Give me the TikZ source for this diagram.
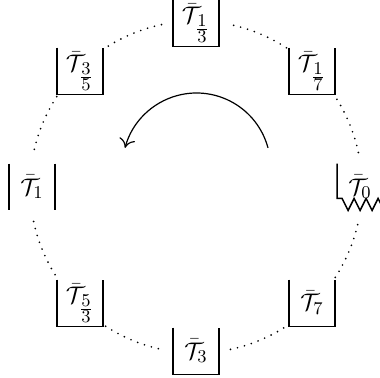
\documentclass[tikz,border=0pt]{standalone}
\usetikzlibrary{calc,arrows.meta}
\newcommand\myT[1]{\bar{\mathcal{T}}_{#1}}
\newcommand\myfr[2]{\frac{\scriptstyle #1}{\scriptstyle #2}}
\begin{document}
\begin{tikzpicture}[x=0.5pt,y=0.5pt,
  wall/.style={line width=0.75pt},
  dots/.style={line width=0.95pt, line cap=round, dash pattern=on 0pt off 3.6pt},
  wellbox/.style={minimum width=22.5pt, minimum height=23pt, inner sep=0pt, font=\fontsize{12.5}{15}\selectfont},
  arrowline/.style={line width=0.6pt, -{To[length=4.5pt,width=8pt]}}
]
\useasboundingbox (0,0) rectangle (380,377);
\coordinate (C) at (196,190);
\coordinate (A) at (196.5,210);
\foreach \ang/\nm/\lab in {0/t0/{\myT{0}}, 45/t17/{\myT{\myfr{1}{7}}}, 90/t13/{\myT{\myfr{1}{3}}}, 135/t35/{\myT{\myfr{3}{5}}},
  180/t1/{\myT{1}}, 225/t53/{\myT{\myfr{5}{3}}}, 270/t3/{\myT{3}}, 315/t7/{\myT{7}}}
  {\node[wellbox] (\nm) at ($(C)+(\ang:82pt)$) {$\lab$};}
% wells
\foreach \nm in {t17,t13,t35,t53,t3,t7}
  {\draw[wall] (\nm.north west) -- (\nm.south west) -- (\nm.south east) -- (\nm.north east);}
\draw[wall] (t1.north west) -- (t1.south west);
\draw[wall] (t1.north east) -- (t1.south east);
\draw[wall] (t0.north west) -- ($(t0.south west)+(0,12)$) -- ++(5,0) -- ++(6,-12) -- ++(6,12) -- ++(6,-12) -- ++(6,12) -- ++(6,-12) -- ++(6,12) -- ++(6,-12);
% dotted arcs
\foreach \a in {0,45,...,315}{
  \pgfmathsetmacro\sa{\a+12}
  \pgfmathsetmacro\ea{\a+33}
  \draw[dots] ($(C)+(\sa:83pt)$) arc[start angle=\sa, end angle=\ea, radius=83pt];
}
% rotation arrow
\draw[arrowline] ($(A)+(15:37pt)$) arc[start angle=15, end angle=165, radius=37pt];
\end{tikzpicture}
\end{document}
